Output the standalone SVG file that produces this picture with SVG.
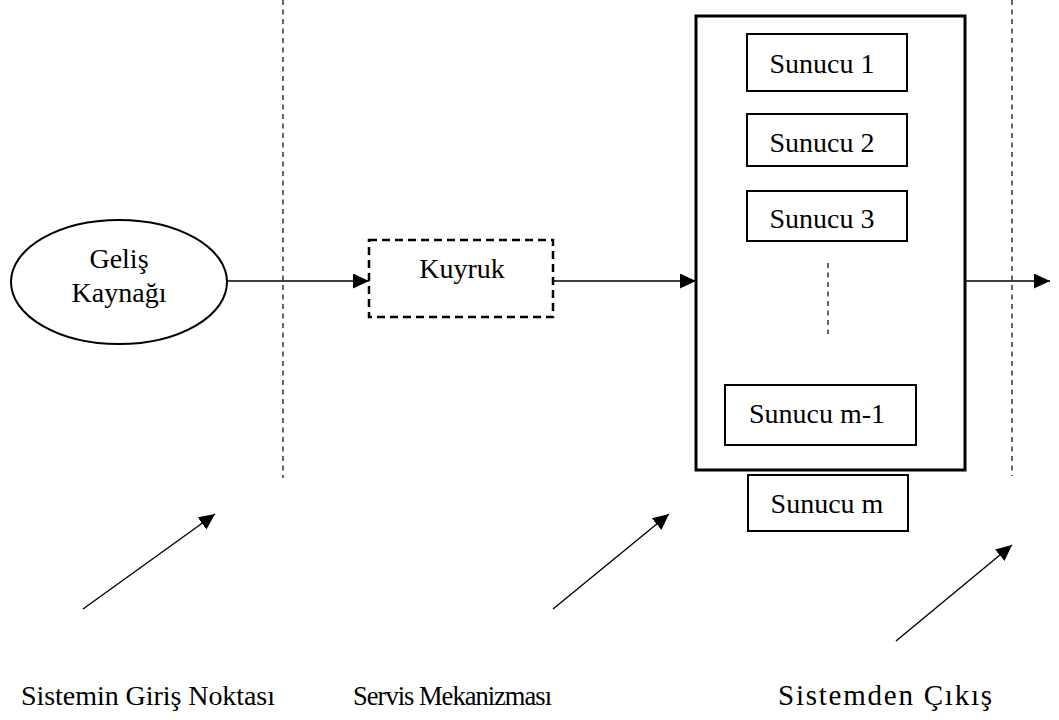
<svg xmlns="http://www.w3.org/2000/svg" width="1059" height="720" viewBox="0 0 1059 720">
  <style>
    text { font-family: "Liberation Serif", "Times New Roman", serif; font-size: 28px; fill: #000; }
    .mid { text-anchor: middle; }
    .small { font-size: 26.5px; }
    .large { font-size: 29px; }
    .box { fill: #fff; stroke: #000; stroke-width: 2; }
    .frame { fill: #fff; stroke: #000; stroke-width: 3; }
    .guide { stroke: #000; stroke-width: 1.2; stroke-dasharray: 5 4.5; fill: none; }
    .flow { stroke: #000; stroke-width: 1.4; fill: none; marker-end: url(#head); }
  </style>
  <defs>
    <marker id="head" markerUnits="userSpaceOnUse" markerWidth="17" markerHeight="16" refX="16" refY="7.5" orient="auto">
      <path d="M0,0 L16,7.5 L0,15 z" fill="#000"/>
    </marker>
  </defs>

  <rect width="1059" height="720" fill="#fff"/>

  <!-- stage boundaries -->
  <g id="boundaries">
    <line class="guide" x1="283" y1="0" x2="283" y2="478"/>
    <line class="guide" x1="1012" y1="0" x2="1012" y2="476"/>
  </g>

  <!-- arrival source -->
  <g id="source">
    <ellipse cx="119" cy="282" rx="108" ry="62" fill="#fff" stroke="#000" stroke-width="2"/>
    <text class="mid" x="119" y="268">Geliş</text>
    <text class="mid" x="119" y="302">Kaynağı</text>
  </g>

  <!-- queue -->
  <g id="queue">
    <rect x="369" y="240" width="184" height="77" fill="#fff" stroke="#000" stroke-width="2.5" stroke-dasharray="8 5"/>
    <text class="mid" x="462" y="278">Kuyruk</text>
  </g>

  <!-- service mechanism -->
  <g id="service">
    <rect class="frame" x="696" y="16" width="269" height="454"/>
  </g>
  <g id="server1">
    <rect class="box" x="747" y="34" width="160" height="57"/>
    <text class="mid" x="822" y="73">Sunucu 1</text>
  </g>
  <g id="server2">
    <rect class="box" x="747" y="114" width="160" height="52"/>
    <text class="mid" x="822" y="152">Sunucu 2</text>
  </g>
  <g id="server3">
    <rect class="box" x="747" y="191" width="160" height="50"/>
    <text class="mid" x="822" y="228">Sunucu 3</text>
  </g>
  <g id="ellipsis">
    <line class="guide" x1="828" y1="263" x2="828" y2="334" stroke-dasharray="4 5.5"/>
  </g>
  <g id="server-m1">
    <rect class="box" x="725" y="385" width="191" height="60"/>
    <text class="mid" x="817" y="423">Sunucu m-1</text>
  </g>
  <g id="server-m">
    <rect class="box" x="748" y="475" width="160" height="56"/>
    <text class="mid" x="827" y="513">Sunucu m</text>
  </g>

  <!-- connectors -->
  <g id="connectors">
    <line class="flow" x1="227" y1="281" x2="369" y2="281"/>
    <line class="flow" x1="554" y1="281" x2="696" y2="281"/>
    <line class="flow" x1="966" y1="281" x2="1050" y2="281"/>
    <line class="flow" x1="83" y1="609" x2="215" y2="514"/>
    <line class="flow" x1="553" y1="609" x2="669" y2="514"/>
    <line class="flow" x1="896" y1="641" x2="1012" y2="545"/>
  </g>

  <!-- stage labels -->
  <g id="labels">
    <text x="21" y="705" textLength="254" lengthAdjust="spacing">Sistemin Giriş Noktası</text>
    <text class="small" x="353" y="705" textLength="199" lengthAdjust="spacing">Servis Mekanizması</text>
    <text class="large" x="778" y="705" textLength="214" lengthAdjust="spacing">Sistemden Çıkış</text>
  </g>
</svg>
